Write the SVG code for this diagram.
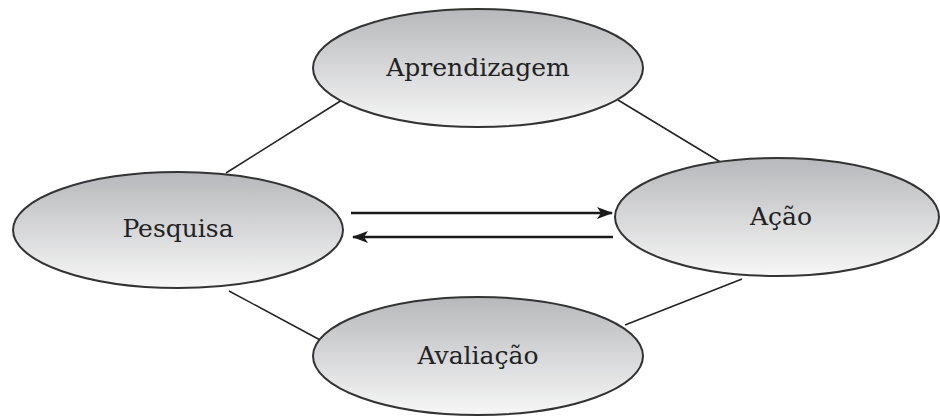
<svg xmlns="http://www.w3.org/2000/svg" width="940" height="416" viewBox="0 0 940 416">
<defs>
<linearGradient id="g" x1="0" y1="0" x2="0" y2="1">
<stop offset="0" stop-color="#b7b8bb"/>
<stop offset="1" stop-color="#f7f7f7"/>
</linearGradient>
<marker id="ah" markerWidth="16" markerHeight="12" refX="15" refY="6" orient="auto" markerUnits="userSpaceOnUse">
<path d="M0,0 L16,6 L0,12 L4,6 Z" fill="#1a1a1a"/>
</marker>
<style>
.node ellipse{fill:url(#g);stroke:#333;stroke-width:2}
.node text{font-family:"DejaVu Serif","Liberation Serif",serif;font-size:25px;fill:#222;text-anchor:middle}
.conn line{stroke:#222;stroke-width:1.5}
.conn .arr{stroke:#1a1a1a;stroke-width:2.6;marker-end:url(#ah)}
</style>
</defs>
<rect width="940" height="416" fill="#fff"/>
<g class="conn" id="connectors">
<line x1="226" y1="173" x2="342" y2="100"/>
<line x1="618" y1="100" x2="722" y2="163"/>
<line x1="229" y1="291" x2="322" y2="341"/>
<line x1="625" y1="325" x2="742" y2="279"/>
<line class="arr" x1="351" y1="213" x2="612" y2="213"/>
<line class="arr" x1="613" y1="237" x2="353" y2="237"/>
</g>
<g class="node" id="aprendizagem">
<ellipse cx="478" cy="68" rx="165" ry="59"/>
<text x="478" y="76">Aprendizagem</text>
</g>
<g class="node" id="pesquisa">
<ellipse cx="178" cy="230" rx="165" ry="58"/>
<text x="178" y="237">Pesquisa</text>
</g>
<g class="node" id="acao">
<ellipse cx="777" cy="217" rx="162" ry="59"/>
<text x="781" y="225">Ação</text>
</g>
<g class="node" id="avaliacao">
<ellipse cx="478" cy="356" rx="165" ry="59"/>
<text x="478" y="364">Avaliação</text>
</g>
</svg>
